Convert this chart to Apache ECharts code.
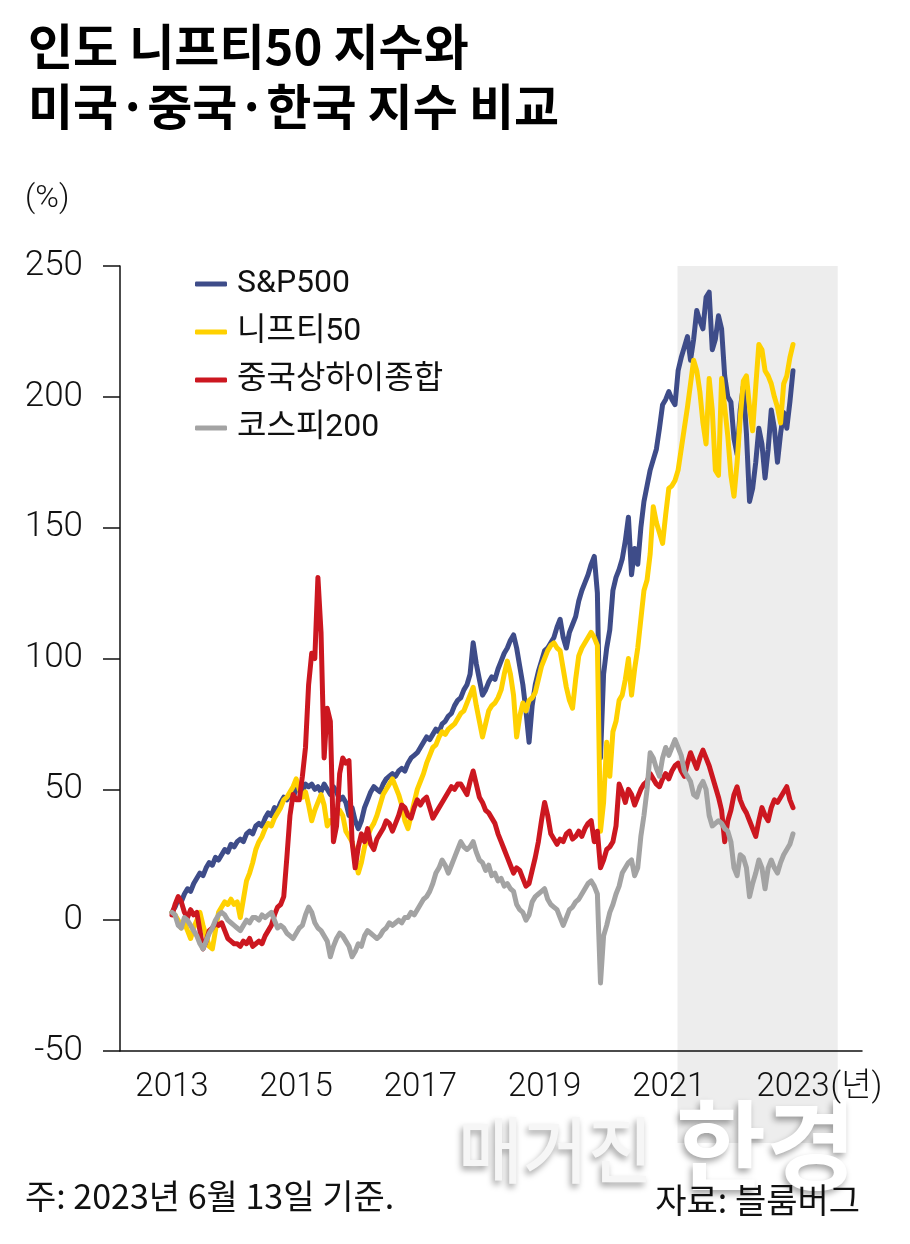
<!DOCTYPE html>
<html><head><meta charset="utf-8">
<script src="https://cdn.jsdelivr.net/npm/echarts@6/dist/echarts.min.js"></script>
<style>html,body{margin:0;padding:0;background:#fff}#c{width:910px;height:1244px}</style>
</head><body><div id="c"></div>
<script>
// ---- data (cumulative return, %) sampled every 0.05 year from the first date ----
const startYear = 2013;
const stepYears = 0.05;
const seriesNames = ['S&P500', '니프티50', '중국상하이종합', '코스피200'];
const xTickYears = [2013, 2015, 2017, 2019, 2021, 2023];
const highlightRange = [2021.14, 2023.72];

const sp500 = [
  3,5,8,7,10,12,11,14,16,18,
  17,20,22,21,24,23,25,27,26,29,
  28,30,31,30,33,34,33,36,37,36,
  39,41,40,43,42,45,47,46,48,47,
  50,51,49,52,51,52,50,51,49,52,
  50,48,51,49,46,47,45,40,43,38,
  35,38,43,46,49,51,50,49,52,54,
  55,56,55,57,58,57,60,62,63,64,
  66,68,70,69,71,73,72,75,76,78,
  79,82,84,85,88,90,94,106,98,92,
  86,88,91,93,92,96,99,102,104,107,
  109,104,97,90,80,68,82,90,95,99,
  103,104,106,108,112,115,108,104,110,113,
  116,122,126,129,132,136,139,125,62,94,
  104,111,126,131,134,138,145,154,132,142,
  136,150,160,166,172,176,180,188,197,199,
  202,199,197,210,215,219,223,214,222,233,
  229,226,238,240,218,222,231,226,208,200,
  198,184,178,195,204,186,160,165,175,188,
  182,169,180,195,188,175,186,194,188,198,
  210
];
const nifty50 = [
  3,2,0,-3,-1,-4,-7,-3,0,3,
  -2,-6,-10,-11,-4,3,5,7,6,8,
  6,7,1,8,15,18,22,27,30,32,
  35,37,36,39,41,43,46,47,49,51,
  54,50,47,49,44,38,42,45,48,44,
  36,38,37,40,42,40,34,32,30,24,
  18,22,28,32,35,37,40,44,48,50,
  52,54,51,48,44,38,35,40,45,50,
  53,56,60,63,66,67,70,72,71,73,
  74,75,77,79,80,83,86,89,82,76,
  70,75,80,82,83,85,88,94,99,94,
  86,70,78,83,80,84,85,87,92,97,
  100,103,105,106,104,103,96,89,84,81,
  92,101,104,106,108,110,108,105,34,45,
  68,55,72,76,84,86,92,100,86,96,
  104,115,126,130,140,158,152,148,144,155,
  165,166,168,172,180,188,196,205,214,210,
  202,190,182,207,195,172,170,207,196,185,
  170,162,175,192,206,208,196,187,204,220,
  218,210,208,205,200,196,190,205,208,215,
  220
];
const shanghai = [
  2,6,9,7,3,1,4,2,3,-4,
  -11,-8,-4,-3,-1,-2,-1,-4,-7,-8,
  -9,-9,-10,-8,-9,-7,-10,-9,-8,-9,
  -6,-4,-2,2,5,6,9,24,40,48,
  46,46,55,66,90,102,100,131,110,62,
  81,76,30,36,56,62,60,61,30,20,
  28,33,30,35,29,27,31,33,35,38,
  37,34,37,40,44,43,40,39,43,46,
  44,46,47,43,39,41,43,45,47,49,
  51,50,52,52,50,48,53,57,52,47,
  45,42,41,39,37,33,30,27,24,21,
  18,20,19,16,13,14,19,24,30,38,
  45,40,33,31,29,31,30,33,34,31,
  32,34,32,35,37,38,30,34,20,23,
  27,28,30,36,52,49,45,50,48,44,
  47,50,52,53,56,54,52,51,54,56,
  54,57,59,60,57,55,60,64,61,58,
  62,65,62,59,55,51,47,42,30,38,
  42,48,51,46,43,41,38,35,32,38,
  43,40,38,43,46,45,47,49,51,46,
  43
];
const kospi200 = [
  3,2,-2,-3,1,0,-2,-4,-6,-9,
  -11,-8,-5,-3,0,2,3,2,0,-1,
  -2,-3,-4,-2,0,-1,1,1,0,2,
  1,2,3,0,-3,-2,-3,-5,-6,-7,
  -5,-3,-2,2,5,3,-1,-3,-4,-6,
  -8,-14,-10,-7,-5,-6,-8,-10,-14,-12,
  -9,-10,-6,-4,-5,-6,-7,-6,-4,-3,
  -1,-2,-1,0,-1,1,1,3,2,4,
  6,8,9,11,14,18,20,23,21,18,
  21,24,27,30,28,27,28,30,26,23,
  22,19,21,17,18,15,16,13,14,12,
  11,6,4,3,0,2,7,9,10,11,
  12,8,6,5,4,1,-2,1,4,5,
  7,8,10,12,14,15,13,10,-24,-6,
  -2,3,6,10,13,18,20,22,23,17,
  20,32,40,50,64,62,58,55,62,66,
  63,66,69,66,63,57,55,53,48,47,
  51,53,50,40,36,37,38,37,35,34,
  30,20,17,25,24,20,9,14,18,23,
  20,12,20,23,20,18,22,25,27,29,
  33
];

const colors = ['#3E4C89', '#FFD100', '#CC1720', '#A3A3A3'];
const NUM_FONT = "Roboto, 'Noto Sans CJK KR', sans-serif";
const KR_FONT = "'Noto Sans CJK KR', sans-serif";
const XLAB_SIZE = 33;

function toPoints(values) {
  return values.map((v, i) => [+(startYear + i * stepYears).toFixed(2), v]);
}

const chart = echarts.init(document.getElementById('c'), null, {renderer: 'canvas'});

const lineSeries = [sp500, nifty50, shanghai, kospi200].map((vals, k) => ({
  name: seriesNames[k],
  type: 'line',
  data: toPoints(vals),
  showSymbol: false,
  symbol: 'none',
  z: 3 + k,
  lineStyle: {width: 5, color: colors[k], join: 'round', cap: 'round'},
  itemStyle: {color: colors[k]}
}));

chart.setOption({
  animation: false,
  backgroundColor: '#ffffff',
  title: {
    text: '인도 니프티50 지수와\n미국·중국·한국 지수 비교',
    left: 23, top: 11,
    textStyle: {fontFamily: KR_FONT, fontWeight: 'bold', fontSize: 49, lineHeight: 60, color: '#000'}
  },
  legend: {
    orient: 'vertical', left: 190, top: 261,
    itemWidth: 32, itemHeight: 5, itemGap: 12, icon: 'roundRect',
    textStyle: {fontFamily: NUM_FONT, fontSize: 32, lineHeight: 36, color: '#111', padding: [0, 0, 0, 5]},
    data: seriesNames
  },
  grid: {left: 120, right: 48, top: 266, bottom: 193, containLabel: false},
  xAxis: {
    type: 'value', min: 2012.163, max: 2024.111, z: 10,
    axisLine: {show: true, onZero: false, lineStyle: {color: '#111', width: 1.5}},
    axisTick: {show: false},
    splitLine: {show: false},
    axisLabel: {
      customValues: xTickYears, hideOverlap: false,
      fontFamily: 'Roboto', fontWeight: 300, fontSize: XLAB_SIZE, color: '#111', margin: 20,
      formatter: v => String(v)
    }
  },
  yAxis: {
    type: 'value', min: -50, max: 250, interval: 50, z: 10,
    axisLine: {show: true, lineStyle: {color: '#111', width: 1.5}},
    axisTick: {show: true, length: 17, lineStyle: {color: '#111', width: 1.5}},
    splitLine: {show: false},
    axisLabel: {fontFamily: 'Roboto', fontWeight: 300, fontSize: 35, color: '#111', margin: 37}
  },
  series: [{
    name: 'band', type: 'line', data: [], z: 1, silent: true,
    markArea: {silent: true, itemStyle: {color: '#EDEDED'},
      data: [[{xAxis: highlightRange[0]}, {xAxis: highlightRange[1]}]]}
  }].concat(lineSeries)
});

// band continues below the axis; unit after last year label; watermark & notes
const x0 = chart.convertToPixel({xAxisIndex: 0}, highlightRange[0]);
const x1 = chart.convertToPixel({xAxisIndex: 0}, highlightRange[1]);
const yBottom = chart.convertToPixel({yAxisIndex: 0}, -50);
const lastTickX = chart.convertToPixel({xAxisIndex: 0}, xTickYears[xTickYears.length - 1]);
const ctx = document.createElement('canvas').getContext('2d');
ctx.font = '300 ' + XLAB_SIZE + 'px Roboto';
const lastHalf = ctx.measureText(String(xTickYears[xTickYears.length - 1])).width / 2;
const wmShadow = {
  shadowColor: 'rgba(0,0,0,0.35)', shadowBlur: 6, shadowOffsetX: -2, shadowOffsetY: 4,
  textShadowColor: 'rgba(0,0,0,0.35)', textShadowBlur: 6, textShadowOffsetX: -2, textShadowOffsetY: 4
};

chart.setOption({
  graphic: [
    {type: 'rect', z: 0, silent: true, shape: {x: x0, y: yBottom, width: x1 - x0, height: 92},
      style: {fill: '#EDEDED'}},
    {type: 'text', z: 1, silent: true, x: 458, y: 1114, scaleX: 0.98,
      style: Object.assign({text: '매거진', font: "500 72px 'Noto Sans CJK KR'", fill: '#f6f6f6'}, wmShadow)},
    {type: 'text', z: 1, silent: true, x: 676, y: 1096,
      style: Object.assign({text: '한경', font: "bold 98px 'Noto Sans CJK KR'", fill: '#ffffff'}, wmShadow)},
    {type: 'text', z: 5, x: lastTickX + lastHalf + 1, y: yBottom + 20,
      style: {text: '(년)', font: '300 ' + XLAB_SIZE + "px Roboto, 'Noto Sans CJK KR'", fill: '#111', textVerticalAlign: 'top'}},
    {type: 'text', z: 5, left: 25, top: 183,
      style: {text: '(%)', font: "300 32px Roboto", fill: '#111'}},
    {type: 'text', z: 5, left: 25, top: 1179,
      style: {text: '주: 2023년 6월 13일 기준.', font: "34px 'Noto Sans CJK KR'", fill: '#111'}},
    {type: 'text', z: 5, right: 50, top: 1183,
      style: {text: '자료: 블룸버그', font: "34px 'Noto Sans CJK KR'", fill: '#111'}}
  ]
});
</script></body></html>
